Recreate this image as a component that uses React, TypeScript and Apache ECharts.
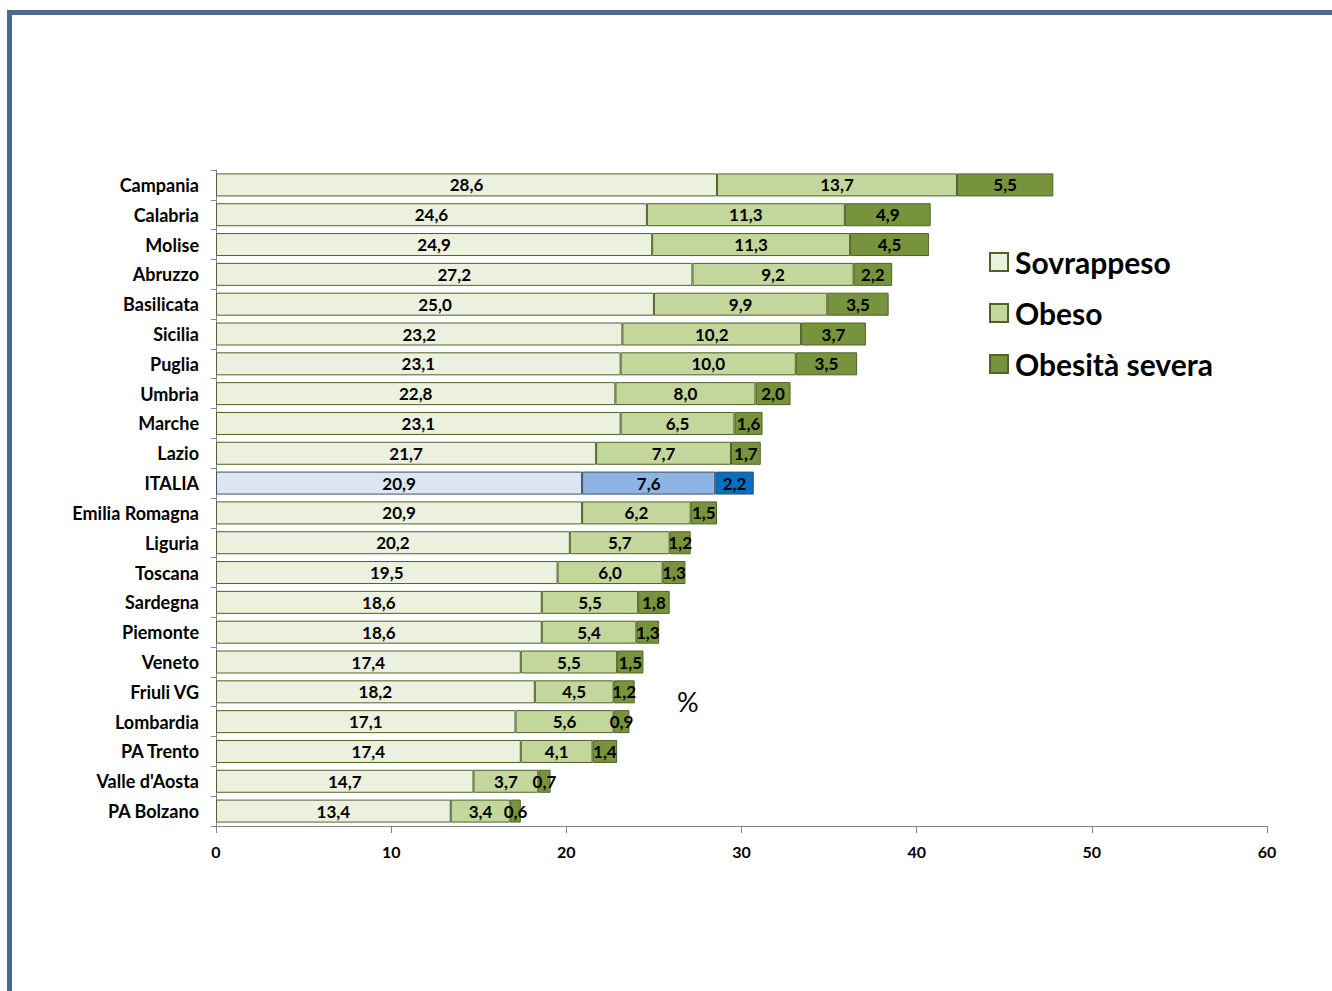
import React, { useEffect, useRef } from "react";
import * as echarts from "echarts";

const categories = [
  "Campania", "Calabria", "Molise", "Abruzzo", "Basilicata", "Sicilia", "Puglia", "Umbria",
  "Marche", "Lazio", "ITALIA", "Emilia Romagna", "Liguria", "Toscana", "Sardegna", "Piemonte",
  "Veneto", "Friuli VG", "Lombardia", "PA Trento", "Valle d'Aosta", "PA Bolzano",
];
const sovrappeso = [28.6, 24.6, 24.9, 27.2, 25.0, 23.2, 23.1, 22.8, 23.1, 21.7, 20.9, 20.9, 20.2, 19.5, 18.6, 18.6, 17.4, 18.2, 17.1, 17.4, 14.7, 13.4];
const obeso = [13.7, 11.3, 11.3, 9.2, 9.9, 10.2, 10.0, 8.0, 6.5, 7.7, 7.6, 6.2, 5.7, 6.0, 5.5, 5.4, 5.5, 4.5, 5.6, 4.1, 3.7, 3.4];
const severa = [5.5, 4.9, 4.5, 2.2, 3.5, 3.7, 3.5, 2.0, 1.6, 1.7, 2.2, 1.5, 1.2, 1.3, 1.8, 1.3, 1.5, 1.2, 0.9, 1.4, 0.7, 0.6];
const xTicks = [0, 10, 20, 30, 40, 50, 60];

const seriesNames = ["Sovrappeso", "Obeso", "Obesità severa"];
const greenColors = ["#EBF1DE", "#C3D69B", "#77933C"];
const blueColors = ["#DCE6F2", "#8EB4E3", "#0070C0"];
const FONT = "Lato, 'Liberation Sans', sans-serif";

export default function App() {
  const ref = useRef<HTMLDivElement>(null);
  useEffect(() => {
    if (!ref.current) return;
    const chart = echarts.init(ref.current, undefined, { renderer: "svg" });
    const values = [sovrappeso, obeso, severa];
    const fmt = (p: any) => Number(p.value).toFixed(1).replace(".", ",");
    const series = values.map((arr, si) => ({
      name: seriesNames[si],
      type: "bar",
      stack: "tot",
      barWidth: 23,
      itemStyle: { color: greenColors[si], borderColor: "#4F6228", borderWidth: 1 },
      label: {
        show: true,
        position: "inside",
        formatter: fmt,
        color: "#000",
        fontFamily: FONT,
        fontSize: 17,
        fontWeight: "bold",
      },
      data: arr.map((v, i) =>
        categories[i] === "ITALIA"
          ? { value: v, itemStyle: { color: blueColors[si], borderColor: "#3F4F6A" } }
          : v
      ),
    }));
    chart.setOption({
      animation: false,
      textStyle: { fontFamily: FONT },
      grid: { left: 216, right: 65, top: 170, height: 656, containLabel: false },
      xAxis: {
        type: "value",
        min: 0,
        max: 60,
        interval: 10,
        axisLine: { show: true, lineStyle: { color: "#868686" } },
        axisTick: { show: true, length: 7, lineStyle: { color: "#868686" } },
        splitLine: { show: false },
        axisLabel: {
          color: "#000",
          fontSize: 16,
          fontWeight: "bold",
          margin: 17,
          formatter: (v: number) => (xTicks.includes(v) ? String(v) : ""),
        },
      },
      yAxis: {
        type: "category",
        data: categories,
        inverse: true,
        axisLine: { show: true, lineStyle: { color: "#868686" } },
        axisTick: { show: true, length: 5, lineStyle: { color: "#868686" } },
        axisLabel: { color: "#000", fontSize: 18, fontWeight: "bold", margin: 17 },
      },
      legend: {
        orient: "vertical",
        left: 984,
        top: 242,
        itemWidth: 18,
        itemHeight: 18,
        itemGap: 21,
        icon: "rect",
        textStyle: { fontSize: 30, fontWeight: "bold", color: "#000", fontFamily: FONT, padding: [0, 0, 0, 2] },
        data: seriesNames,
      },
      graphic: [
        { type: "rect", shape: { x: 7, y: 10, width: 1330, height: 5 }, style: { fill: "#4A6A94" } },
        { type: "rect", shape: { x: 7, y: 10, width: 5, height: 990 }, style: { fill: "#4A6A94" } },
        {
          type: "text",
          left: 677,
          top: 688,
          style: { text: "%", fontSize: 27, fill: "#000", fontFamily: FONT },
        },
      ],
      series,
    });
    return () => chart.dispose();
  }, []);
  return (
    <div
      ref={ref}
      style={{ position: "absolute", left: 0, top: 0, width: 1332, height: 991, background: "#fff" }}
    />
  );
}
